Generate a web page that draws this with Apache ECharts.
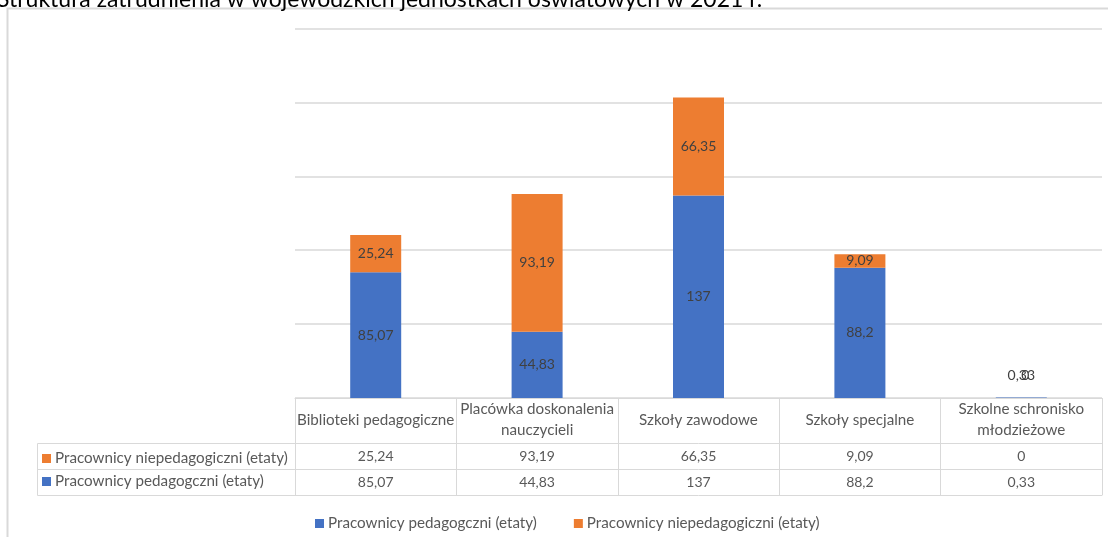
<!DOCTYPE html>
<html>
<head>
<meta charset="utf-8">
<script src="https://cdn.jsdelivr.net/npm/echarts@6/dist/echarts.min.js"></script>
<style>
html,body{margin:0;padding:0;background:#fff;}
#chart{width:1108px;height:537px;}
</style>
</head>
<body>
<div id="chart"></div>
<script>
const titleText = 'Struktura zatrudnienia w wojewódzkich jednostkach oświatowych w 2021 r.';
const categories = ['Biblioteki pedagogiczne', 'Placówka doskonalenia\nnauczycieli', 'Szkoły zawodowe', 'Szkoły specjalne', 'Szkolne schronisko\nmłodzieżowe'];
const seriesPedName = 'Pracownicy pedagogczni (etaty)';
const seriesNiepedName = 'Pracownicy niepedagogiczni (etaty)';
const pedagogiczni = [85.07, 44.83, 137, 88.2, 0.33];
const niepedagogiczni = [25.24, 93.19, 66.35, 9.09, 0];
const yMin = 0, yMax = 250, yInterval = 50;

const FONT = 'Lato';
const GRAY = '#d9d9d9';
const TXT = '#595959';
const TXT_SIZE = 15.2;
const NUM_SIZE = 14;
const fmt = v => String(v).replace('.', ',');

const chart = echarts.init(document.getElementById('chart'));

const pedData = pedagogiczni.map((v, i) => i === categories.length - 1
  ? { value: v, label: { position: 'top', distance: 15 } } : v);
const niepedData = niepedagogiczni.map((v, i) => i === categories.length - 1
  ? { value: v, label: { position: 'top', distance: 15, offset: [4, 0] } } : v);

const tableAxis = (data, offset, showTicks) => ({
  type: 'category', gridIndex: 0, position: 'bottom', offset: offset,
  data: data,
  axisLine: { show: true, lineStyle: { color: GRAY, width: 1 } },
  axisTick: { show: showTicks, length: 26, interval: 0, lineStyle: { color: GRAY, width: 1 } },
  axisLabel: { show: data.some(d => d !== ''), interval: 0, margin: 13, verticalAlign: 'middle',
    color: TXT, fontFamily: FONT, fontSize: NUM_SIZE },
  splitLine: { show: false }
});

chart.setOption({
  animation: false,
  textStyle: { fontFamily: FONT },
  title: {
    text: titleText, left: -8, top: -17,
    textStyle: { fontFamily: FONT, fontSize: 23, fontWeight: 'normal', color: '#000' }
  },
  grid: { left: 295, right: 6, top: 28.5, bottom: 139, containLabel: false },
  legend: [
    {
      data: [seriesPedName, seriesNiepedName], left: 310, top: 511,
      icon: 'rect', itemWidth: 9, itemHeight: 9, itemGap: 37, selectedMode: false,
      textStyle: { color: TXT, fontFamily: FONT, fontSize: TXT_SIZE, padding: [0, 0, 0, -1] }
    },
    {
      data: [seriesNiepedName, seriesPedName], orient: 'vertical', left: 37, top: 446,
      icon: 'rect', itemWidth: 9, itemHeight: 9, itemGap: 8, selectedMode: false,
      textStyle: { color: TXT, fontFamily: FONT, fontSize: TXT_SIZE, padding: [0, 0, 0, -1] }
    }
  ],
  xAxis: [
    {
      type: 'category', data: categories, position: 'bottom',
      axisLine: { show: true, lineStyle: { color: GRAY, width: 1 } },
      axisTick: { show: true, length: 45, interval: 0, lineStyle: { color: GRAY, width: 1 } },
      axisLabel: { interval: 0, margin: 22, verticalAlign: 'middle', lineHeight: 21,
        color: TXT, fontFamily: FONT, fontSize: TXT_SIZE }
    },
    tableAxis(niepedagogiczni.map(fmt), 45, true),
    tableAxis(pedagogiczni.map(fmt), 71, true),
    tableAxis(categories.map(() => ''), 97, false)
  ],
  yAxis: {
    type: 'value', min: yMin, max: yMax, interval: yInterval,
    axisLabel: { show: false }, axisLine: { show: false }, axisTick: { show: false },
    splitLine: { show: true, lineStyle: { color: GRAY, width: 1.5 } }
  },
  series: [
    {
      name: seriesPedName, type: 'bar', stack: 'total', barWidth: 51,
      data: pedData, itemStyle: { color: '#4472C4' },
      label: { show: true, position: 'inside', formatter: p => fmt(p.value),
        color: '#404040', fontFamily: FONT, fontSize: NUM_SIZE }
    },
    {
      name: seriesNiepedName, type: 'bar', stack: 'total', barWidth: 51,
      data: niepedData, itemStyle: { color: '#ED7D31' },
      label: { show: true, position: 'inside', formatter: p => fmt(p.value),
        color: '#404040', fontFamily: FONT, fontSize: NUM_SIZE }
    }
  ],
  graphic: [
    { type: 'rect', silent: true, z: -1, shape: { x: 7.5, y: 8.5, width: 1300, height: 1000 },
      style: { fill: 'none', stroke: GRAY, lineWidth: 2 } },
    { type: 'polyline', silent: true, shape: { points: [[295, 443.5], [37.5, 443.5], [37.5, 495.5], [295, 495.5]] },
      style: { fill: 'none', stroke: GRAY, lineWidth: 1 } },
    { type: 'line', silent: true, shape: { x1: 37.5, y1: 469.5, x2: 295, y2: 469.5 },
      style: { stroke: GRAY, lineWidth: 1 } }
  ]
});
</script>
</body>
</html>
